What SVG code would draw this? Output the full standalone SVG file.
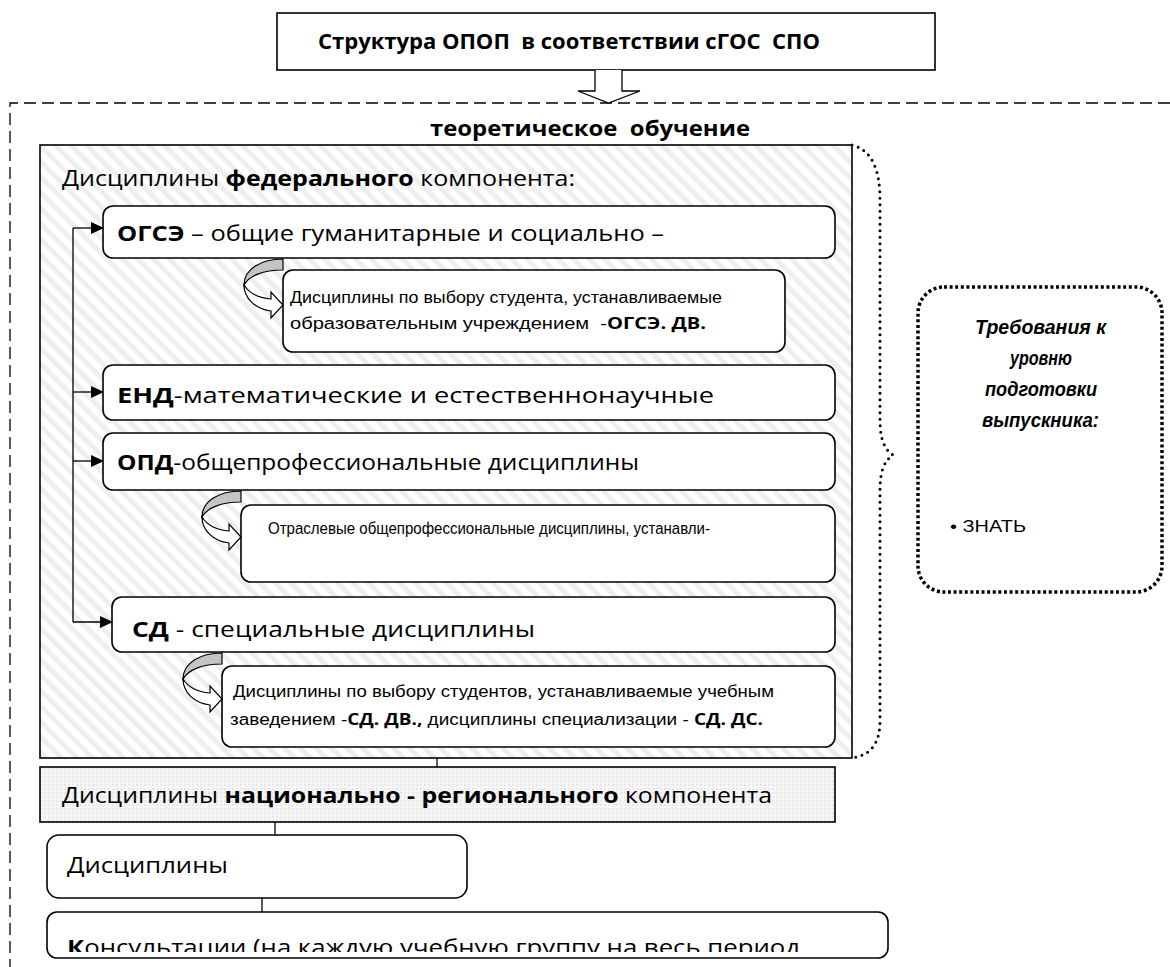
<svg xmlns="http://www.w3.org/2000/svg" width="1170" height="967" viewBox="0 0 1170 967">
<style>
.box{fill:#fff;stroke:#000;stroke-width:1.6}
.big{font-family:"Open Sans",sans-serif;font-size:22px;fill:#000}
.sm{font-family:"Liberation Sans",Arial,sans-serif;font-size:16px;fill:#000}
.req{font-family:"Liberation Sans",Arial,sans-serif;font-size:20px;font-weight:bold;font-style:italic;fill:#000}
.b{font-weight:bold}
.ln{stroke:#000;stroke-width:1.3;fill:none}
</style>
<defs>
<pattern id="hatch" width="11" height="11" patternUnits="userSpaceOnUse" patternTransform="rotate(-45)">
<rect width="11" height="11" fill="#fff"/>
<rect width="5" height="11" fill="#eeeeee"/>
</pattern>
<pattern id="dots" width="4" height="4" patternUnits="userSpaceOnUse">
<rect width="4" height="4" fill="#f6f6f6"/>
<rect width="2" height="2" fill="#e8e8e8"/>
</pattern>
<marker id="ah" markerWidth="13" markerHeight="12" refX="12" refY="6" orient="auto" markerUnits="userSpaceOnUse">
<path d="M0,0 L13,6 L0,12 Z" fill="#000"/>
</marker>
<g id="curl">
<path d="M0,0 C-22,0 -39,10 -39,26 C-34,17 -20,11 0,11 Z" fill="#c4c4c4" stroke="#000" stroke-width="1.2"/>
<path d="M-39,26 C-39,39 -28,50 -12,52 L-12,59 L0,46 L-12,33 L-12,40 C-24,39 -34,34 -39,26 Z" fill="#fff" stroke="#000" stroke-width="1.2"/>
</g>
<clipPath id="kclip"><rect x="40" y="900" width="860" height="52"/></clipPath>
</defs>
<rect width="1170" height="967" fill="#fff"/>

<g id="outer">
<path d="M1170,103 H10 V967" fill="none" stroke="#000" stroke-width="1.3" stroke-dasharray="12,6"/>
</g>

<g id="title">
<rect class="box" x="277" y="13" width="658" height="57"/>
<text x="318" y="49" class="big b" font-size="19" xml:space="preserve" textLength="502" lengthAdjust="spacingAndGlyphs">Структура ОПОП  в соответствии сГОС  СПО</text>
</g>

<g id="theory-label">
<text x="430" y="136" class="big b" font-size="17" xml:space="preserve" textLength="320" lengthAdjust="spacingAndGlyphs">теоретическое  обучение</text>
</g>

<g id="federal">
<rect x="40" y="145" width="812" height="613" fill="url(#hatch)" stroke="#000" stroke-width="1.6"/>
<text x="62" y="186" class="big" textLength="513" lengthAdjust="spacingAndGlyphs">Дисциплины <tspan class="b">федерального</tspan> компонента:</text>
</g>

<g id="ogse">
<rect class="box" x="103" y="206" width="732" height="52" rx="10"/>
<text x="117" y="241" class="big" textLength="547" lengthAdjust="spacingAndGlyphs"><tspan class="b">ОГСЭ</tspan> – общие гуманитарные и социально –</text>
</g>
<g id="ogse-dv">
<rect class="box" x="283" y="270" width="502" height="82" rx="10"/>
<text x="290" y="303" class="sm" textLength="432" lengthAdjust="spacingAndGlyphs">Дисциплины по выбору студента, устанавливаемые</text>
<text x="290" y="329" class="sm" xml:space="preserve" textLength="416" lengthAdjust="spacingAndGlyphs">образовательным учреждением  -<tspan class="b" font-family="Open Sans, sans-serif" font-size="16">ОГСЭ. ДВ.</tspan></text>
</g>

<g id="end">
<rect class="box" x="103" y="365" width="732" height="55" rx="10"/>
<text x="117" y="403" class="big" textLength="597" lengthAdjust="spacingAndGlyphs"><tspan class="b">ЕНД</tspan>-математические и естественнонаучные</text>
</g>

<g id="opd">
<rect class="box" x="103" y="433" width="732" height="57" rx="10"/>
<text x="117" y="470" class="big" textLength="522" lengthAdjust="spacingAndGlyphs"><tspan class="b">ОПД</tspan>-общепрофессиональные дисциплины</text>
</g>
<g id="opd-branch">
<rect class="box" x="241" y="505" width="594" height="77" rx="10"/>
<text x="268" y="534" class="sm" textLength="442" lengthAdjust="spacingAndGlyphs">Отраслевые общепрофессиональные дисциплины, устанавли-</text>
</g>

<g id="sd">
<rect class="box" x="112" y="597" width="723" height="55" rx="10"/>
<text x="132" y="637" class="big" textLength="403" lengthAdjust="spacingAndGlyphs"><tspan class="b">СД</tspan> - специальные дисциплины</text>
</g>
<g id="sd-dv">
<rect class="box" x="222" y="666" width="613" height="81" rx="10"/>
<text x="233" y="697" class="sm" textLength="541" lengthAdjust="spacingAndGlyphs">Дисциплины по выбору студентов, устанавливаемые учебным</text>
<text x="230" y="725" class="sm" textLength="533" lengthAdjust="spacingAndGlyphs">заведением -<tspan class="b" font-family="Open Sans, sans-serif" font-size="16">СД. ДВ.,</tspan> дисциплины специализации - <tspan class="b" font-family="Open Sans, sans-serif" font-size="16">СД. ДС.</tspan></text>
</g>

<g id="national">
<rect x="40" y="767" width="795" height="55" fill="url(#dots)" stroke="#000" stroke-width="1.6"/>
<text x="62" y="803" class="big" textLength="710" lengthAdjust="spacingAndGlyphs">Дисциплины <tspan class="b">национально - регионального</tspan> компонента</text>
</g>

<g id="disc">
<rect class="box" x="47" y="835" width="420" height="63" rx="12"/>
<text x="67" y="873" class="big" textLength="161" lengthAdjust="spacingAndGlyphs">Дисциплины</text>
</g>

<g id="consult">
<rect class="box" x="47" y="912" width="841" height="46" rx="10"/>
<text x="67" y="955" class="big" clip-path="url(#kclip)" textLength="733" lengthAdjust="spacingAndGlyphs"><tspan class="b">К</tspan>онсультации (на каждую учебную группу на весь период</text>
</g>

<g id="requirements">
<rect x="918" y="287" width="244" height="305" rx="26" fill="none" stroke="#000" stroke-width="3.5" stroke-dasharray="3,2.6"/>
<text x="975" y="334" class="req" textLength="131" lengthAdjust="spacingAndGlyphs">Требования к</text>
<text x="1010" y="365" class="req" textLength="62" lengthAdjust="spacingAndGlyphs">уровню</text>
<text x="985" y="396" class="req" textLength="112" lengthAdjust="spacingAndGlyphs">подготовки</text>
<text x="982" y="427" class="req" textLength="117" lengthAdjust="spacingAndGlyphs">выпускника:</text>
<text x="950" y="532" class="sm" font-size="20" textLength="76" lengthAdjust="spacingAndGlyphs">• ЗНАТЬ</text>
</g>

<g id="connectors">
<path class="ln" d="M73,228 V622"/>
<path class="ln" d="M73,228 H103" marker-end="url(#ah)"/>
<path class="ln" d="M73,392 H103" marker-end="url(#ah)"/>
<path class="ln" d="M73,461 H103" marker-end="url(#ah)"/>
<path class="ln" d="M73,622 H112" marker-end="url(#ah)"/>
<use href="#curl" x="283" y="259"/>
<use href="#curl" x="241" y="491"/>
<use href="#curl" x="222" y="653"/>
<path d="M595,70 V91 H578 L608.5,103 L640,91 H622 V70" fill="#fff" stroke="#000" stroke-width="1.3"/>
<path d="M852,145 C872,150 880,170 880,200 V420 C880,440 885,450 893,455 C885,460 880,470 880,490 V720 C880,745 870,755 852,758" fill="none" stroke="#000" stroke-width="3" stroke-linecap="round" stroke-dasharray="0,6.5"/>
<path class="ln" d="M437,758 V767"/>
<path class="ln" d="M275,822 V835"/>
<path class="ln" d="M262,898 V912"/>
</g>
</svg>
